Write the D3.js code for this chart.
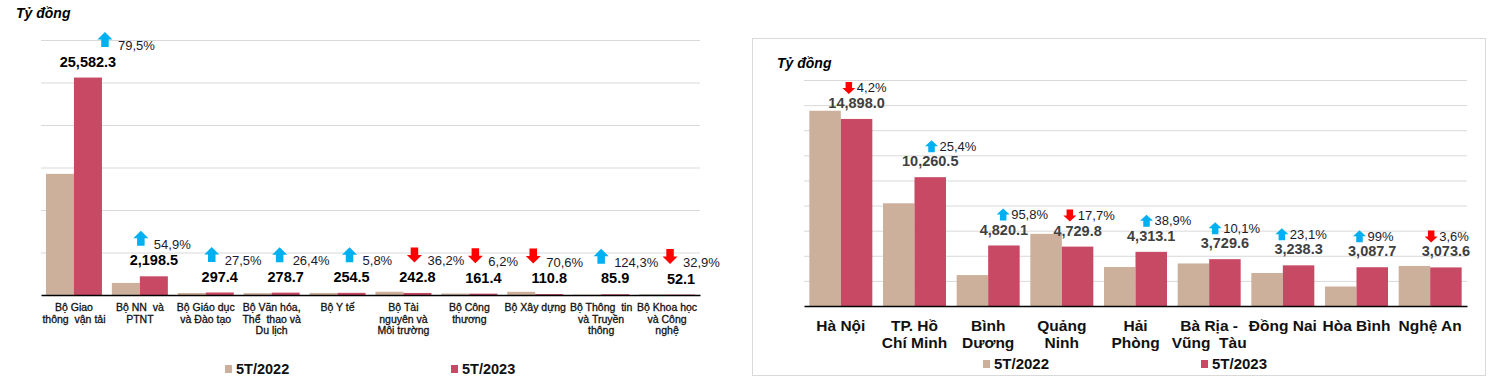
<!DOCTYPE html>
<html>
<head>
<meta charset="utf-8">
<script src="https://cdn.jsdelivr.net/npm/d3@7"></script>
<style>
  body { margin: 0; background: #fff; }
  svg { display: block; font-family: Arial, "Liberation Sans", sans-serif; }
</style>
</head>
<body>
<svg id="chart" width="1489" height="377"></svg>
<script>
// --- data: left panel (bộ, ngành) ---
var ministries = ["Bộ Giao\nthông  vận tải", "Bộ NN  và\nPTNT", "Bộ Giáo dục\nvà Đào tạo",
  "Bộ Văn hóa,\nThể  thao và\nDu lịch", "Bộ Y tế", "Bộ Tài\nnguyên và\nMôi trường",
  "Bộ Công\nthương", "Bộ Xây dựng", "Bộ Thông  tin\nvà Truyền\nthông", "Bộ Khoa học\nvà Công\nnghệ"];
var ministry2022 = [14250, 1419, 233, 220, 241, 381, 172, 377, 38, 78];
var ministry2023 = [25582.3, 2198.5, 297.4, 278.7, 254.5, 242.8, 161.4, 110.8, 85.9, 52.1];
var ministryChange = [79.5, 54.9, 27.5, 26.4, 5.8, -36.2, -6.2, -70.6, 124.3, -32.9];
var ministryTicks = [0, 5000, 10000, 15000, 20000, 25000, 30000];

// --- data: right panel (địa phương) ---
var provinces = ["Hà Nội", "TP. Hồ\nChí Minh", "Bình\nDương", "Quảng\nNinh", "Hải\nPhòng",
  "Bà Rịa -\nVũng  Tàu", "Đồng Nai", "Hòa Bình", "Nghệ An"];
var province2022 = [15551, 8182, 2462, 5747, 3105, 3387, 2631, 1552, 3188];
var province2023 = [14898.0, 10260.5, 4820.1, 4729.8, 4313.1, 3729.6, 3238.3, 3087.7, 3073.6];
var provinceChange = [-4.2, 25.4, 95.8, -17.7, 38.9, 10.1, 23.1, 99, -3.6];
var provinceTicks = [0, 2000, 4000, 6000, 8000, 10000, 12000, 14000, 16000, 18000];

var seriesNames = ["5T/2022", "5T/2023"];
var colors = ["#cdb09c", "#c84964"];

var svg = d3.select('#chart');
var fmtVal = d3.format(',.1f');
function fmtPct(v) { return String(Math.abs(v)).replace('.', ',') + '%'; }

// block arrow centred at (cx, cy)
function arrowPath(cx, cy, w, h, up) {
  var s = up ? 1 : -1;
  var pts = [[0, -h / 2], [w / 2, 0], [w / 4, 0], [w / 4, h / 2], [-w / 4, h / 2], [-w / 4, 0], [-w / 2, 0]];
  return 'M' + pts.map(function(p) { return [cx + p[0], cy + s * p[1]].join(','); }).join('L') + 'Z';
}

// right panel frame
svg.append('rect')
  .attr('x', 752.5).attr('y', 38.5).attr('width', 733).attr('height', 337)
  .attr('fill', '#fff').attr('stroke', '#d9d9d9');

function drawPanel(o) {
  var g = svg.append('g');

  var x = d3.scaleBand().domain(o.cats).range([o.left, o.right])
    .paddingInner(o.pad).paddingOuter(o.pad / 2);
  var x1 = d3.scaleBand().domain(seriesNames).range([0, x.bandwidth()]);
  var y = d3.scaleLinear().domain([0, o.ticks[o.ticks.length - 1]]).range([o.base, o.top]);

  // gridlines
  g.append('g').attr('transform', 'translate(' + o.left + ',0)')
    .call(d3.axisLeft(y).tickValues(o.ticks.slice(1)).tickSize(-(o.right - o.left)).tickFormat(''))
    .call(function(a) {
      a.select('.domain').remove();
      a.selectAll('line').attr('stroke', '#d9d9d9').attr('stroke-width', 1);
    });

  // bars
  var series = [o.v1, o.v2];
  series.forEach(function(vals, si) {
    g.selectAll('rect.s' + si)
      .data(vals)
      .enter()
      .append('rect')
      .attr('x', function(d, i) { return x(o.cats[i]) + x1(seriesNames[si]); })
      .attr('y', function(d) { return y(d); })
      .attr('width', x1.bandwidth())
      .attr('height', function(d) { return o.base - y(d); })
      .attr('fill', colors[si]);
  });

  // baseline / category labels
  g.append('g').attr('transform', 'translate(0,' + o.base + ')')
    .call(d3.axisBottom(x).tickSize(0).tickFormat(''))
    .call(function(a) {
      a.select('.domain').attr('stroke', '#000').attr('stroke-width', 1.3);
    });

  g.selectAll('text.cat')
    .data(o.cats)
    .enter()
    .append('text')
    .attr('class', 'cat')
    .attr('text-anchor', 'middle')
    .attr('font-size', o.catSize)
    .attr('font-weight', o.catWeight)
    .attr('fill', '#111')
    .attr('stroke', o.catStroke ? '#111' : 'none')
    .attr('stroke-width', o.catStroke || 0)
    .each(function(d) {
      var t = d3.select(this);
      d.split('\n').forEach(function(line, li) {
        t.append('tspan')
          .attr('x', x(d) + x.bandwidth() / 2)
          .attr('y', o.catY + li * o.catLine)
          .attr('xml:space', 'preserve')
          .text(line);
      });
    });

  // value labels above 2023 bars
  var labY = function(v) { return y(v) - 16; };
  g.selectAll('text.val')
    .data(o.v2)
    .enter()
    .append('text')
    .attr('x', function(d, i) { return x(o.cats[i]) + x1(seriesNames[1]) + x1.bandwidth() / 2; })
    .attr('y', labY)
    .attr('dy', '0.35em')
    .attr('text-anchor', 'middle')
    .attr('font-size', 14.5)
    .attr('font-weight', 'bold')
    .attr('fill', o.valColor)
    .text(function(d) { return fmtVal(d); });

  // change arrows + percentages
  o.change.forEach(function(c, i) {
    var cx = x(o.cats[i]) + x.bandwidth() / 2 + o.nudge[i];
    var vy = labY(o.v2[i]);
    g.append('path')
      .attr('d', arrowPath(cx, vy + o.arrowDy, o.arrowW, o.arrowH, c > 0))
      .attr('fill', c > 0 ? '#00b0f0' : '#ff0000');
    g.append('text')
      .attr('x', cx + o.pctDx)
      .attr('y', vy + o.pctDy)
      .attr('dy', '0.35em')
      .attr('font-size', 13)
      .attr('fill', '#1a1a2a')
      .text(fmtPct(c));
  });

  // unit title
  svg.append('text')
    .attr('x', o.titleX).attr('y', o.titleY).attr('dy', '0.35em')
    .attr('font-size', 14).attr('font-weight', 'bold').attr('font-style', 'italic')
    .attr('fill', '#000')
    .text('Tỷ đồng');

  // legend
  seriesNames.forEach(function(name, si) {
    svg.append('rect')
      .attr('x', o.legX[si]).attr('y', o.legY - 4)
      .attr('width', 7).attr('height', 8)
      .attr('fill', colors[si]);
    svg.append('text')
      .attr('x', o.legX[si] + 11).attr('y', o.legY).attr('dy', '0.35em')
      .attr('font-size', o.legSize).attr('font-weight', 'bold').attr('fill', '#111')
      .text(name);
  });
}

drawPanel({
  cats: ministries, v1: ministry2022, v2: ministry2023, change: ministryChange, ticks: ministryTicks,
  left: 41, right: 700, top: 40, base: 295, pad: 0.15,
  catSize: 10.5, catWeight: 'normal', catStroke: 0.3, catY: 311, catLine: 11.5,
  valColor: '#000',
  nudge: [31, 1, 6, 8, 12, 11, 6, -2, 0, 3],
  arrowW: 15, arrowH: 15, arrowDy: -22, pctDx: 13, pctDy: -16,
  titleX: 16, titleY: 13,
  legX: [225, 451], legY: 369, legSize: 14.5
});

drawPanel({
  cats: provinces, v1: province2022, v2: province2023, change: provinceChange, ticks: provinceTicks,
  left: 804, right: 1467, top: 80, base: 306, pad: 0.145,
  catSize: 15.5, catWeight: 'bold', catY: 331, catLine: 17,
  valColor: '#404040',
  nudge: [8, 17, 15, 8, 11, 6, -1, 3, 1],
  arrowW: 13, arrowH: 12, arrowDy: -15, pctDx: 8, pctDy: -15,
  titleX: 777, titleY: 63,
  legX: [983, 1201], legY: 364, legSize: 15
});
</script>
</body>
</html>
